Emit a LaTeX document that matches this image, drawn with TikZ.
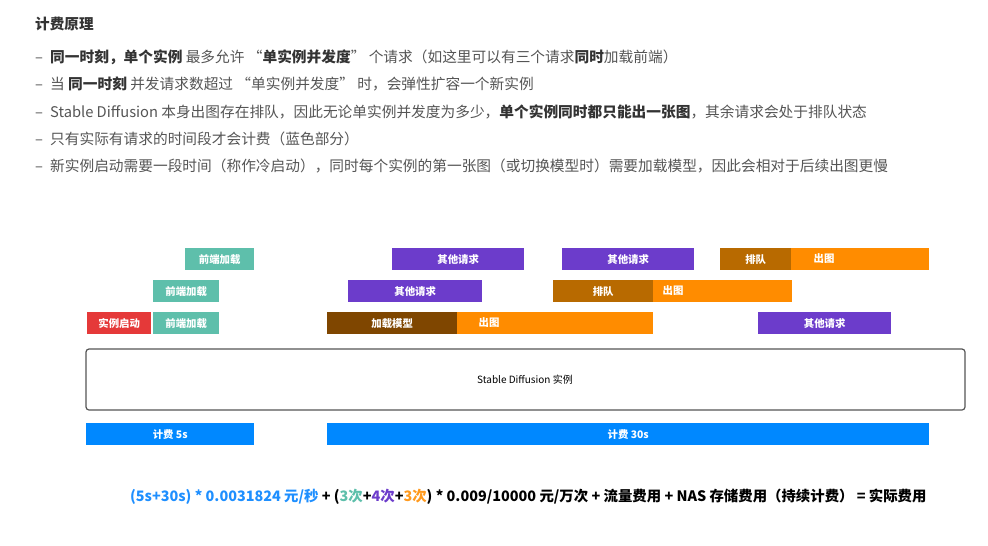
\documentclass[tikz,border=0pt]{standalone}
\usepackage{fontspec}
\setmainfont{Noto Sans CJK SC}
\definecolor{cteal}{HTML}{5EBFAB}
\definecolor{cpurple}{HTML}{6C3CCB}
\definecolor{cqueue}{HTML}{B86A00}
\definecolor{corange}{HTML}{FF8C00}
\definecolor{cbrown}{HTML}{7F4600}
\definecolor{cred}{HTML}{E53939}
\definecolor{cblue}{HTML}{0088FF}
\definecolor{ftblue}{HTML}{1E8FFF}
\definecolor{ftorange}{HTML}{FF9A1E}
\definecolor{bodytext}{HTML}{555555}
\definecolor{darktext}{HTML}{333333}
\definecolor{boxline}{HTML}{555555}
\begin{document}
\begin{tikzpicture}[x=1pt,y=-1pt,
  bar/.style={anchor=north west, inner sep=0pt, minimum height=22pt, text=white,
    font=\fontsize{10.4}{11}\selectfont\bfseries},
  barlbl/.style={inner sep=0pt, text=white, font=\fontsize{10.4}{11}\selectfont\bfseries},
  line/.style={anchor=west, inner sep=0pt, text=bodytext, font=\fontsize{14.7}{17}\selectfont}
]
\useasboundingbox[fill=white] (0,0) rectangle (988,546);

% header text
\node[line, text=darktext, font=\fontsize{14.6}{17}\selectfont\bfseries] (title) at (35,24) {计费原理};
\newcommand{\dsh}{\makebox[15pt][l]{–}}
\newcommand{\bb}[1]{{\bfseries\color{darktext}#1}}
\node[line] (l1) at (35,57) {\dsh\bb{同一时刻，单个实例} 最多允许 “\bb{单实例并发度}” 个请求（如这里可以有三个请求\bb{同时}加载前端）};
\node[line] (l2) at (35,84) {\dsh 当 \bb{同一时刻} 并发请求数超过 “单实例并发度” 时，会弹性扩容一个新实例};
\node[line] (l3) at (35,112) {\dsh Stable Diffusion 本身出图存在排队，因此无论单实例并发度为多少，\bb{单个实例同时都只能出一张图}，其余请求会处于排队状态};
\node[line] (l4) at (35,139) {\dsh 只有实际有请求的时间段才会计费（蓝色部分）};
\node[line] (l5) at (35,166) {\dsh 新实例启动需要一段时间（称作冷启动），同时每个实例的第一张图（或切换模型时）需要加载模型，因此会相对于后续出图更慢};

% row 1
\node[bar, fill=cteal, minimum width=69pt] (f1) at (185,248) {前端加载};
\node[bar, fill=cpurple, minimum width=132pt] (o1) at (392,248) {其他请求};
\node[bar, fill=cpurple, minimum width=132pt] (o2) at (562,248) {其他请求};
\node[bar, fill=cqueue, minimum width=71pt] (q1) at (720,248) {排队};
\node[bar, fill=corange, minimum width=138pt] (c1) at (791,248) {};
\node[barlbl] (c1t) at (824,259) {出图};

% row 2
\node[bar, fill=cteal, minimum width=66pt] (f2) at (153,280) {前端加载};
\node[bar, fill=cpurple, minimum width=134pt] (o3) at (348,280) {其他请求};
\node[bar, fill=cqueue, minimum width=100pt] (q2) at (553,280) {排队};
\node[bar, fill=corange, minimum width=139pt] (c2) at (653,280) {};
\node[barlbl] (c2t) at (673,291) {出图};

% row 3
\node[bar, fill=cred, minimum width=64pt] (s3) at (87,312) {实例启动};
\node[bar, fill=cteal, minimum width=66pt] (f3) at (153,312) {前端加载};
\node[bar, fill=cbrown, minimum width=130pt] (m3) at (327,312) {加载模型};
\node[bar, fill=corange, minimum width=196pt] (c3) at (457,312) {};
\node[barlbl] (c3t) at (489,323) {出图};
\node[bar, fill=cpurple, minimum width=133pt] (o4) at (758,312) {其他请求};

% instance box
\draw[boxline, line width=1.2pt, rounded corners=3pt] (86,349) rectangle (965,410);
\node[inner sep=0pt, font=\fontsize{10}{11}\selectfont, text=black] (sd) at (525,380) {Stable Diffusion 实例};

% billing bars
\node[bar, fill=cblue, minimum width=168pt] (b1) at (86,423) {计费 5s};
\node[bar, fill=cblue, minimum width=602pt] (b2) at (327,423) {计费 30s};

% formula
\node[anchor=west, inner sep=0pt, font=\fontsize{14.4}{16}\selectfont\bfseries, text=black] (fm) at (130,497)
 {\textcolor{ftblue}{(5s+30s) * 0.0031824 元/秒} + (\textcolor{cteal}{3次}+\textcolor{cpurple}{4次}+\textcolor{ftorange}{3次}) * 0.009/10000 元/万次 + 流量费用 + NAS 存储费用（持续计费） = 实际费用};
\end{tikzpicture}
\end{document}
